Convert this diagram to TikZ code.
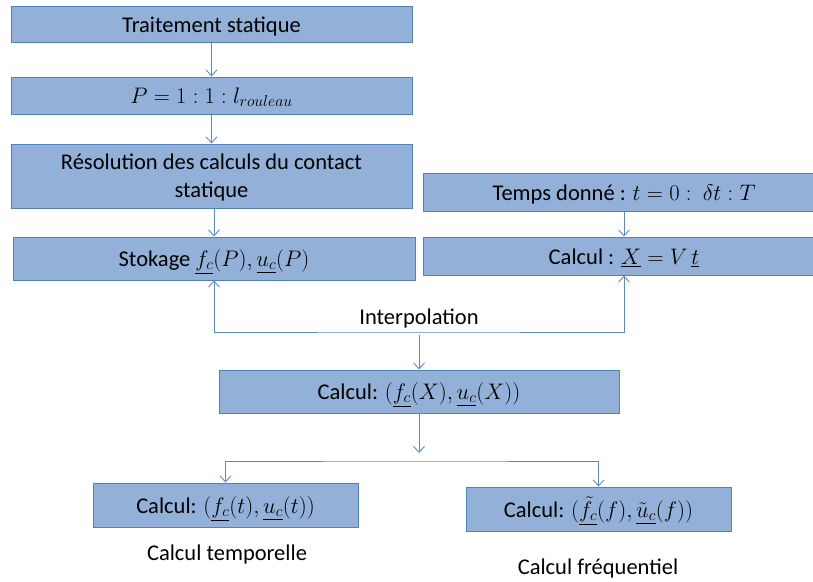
\documentclass[tikz,border=0pt]{standalone}
\usepackage{fix-cm}
\usepackage{amsmath}
\usepackage{fontspec}
\setmainfont{Carlito}
\usetikzlibrary{arrows.meta}
\definecolor{fondBleu}{HTML}{93B1D8}
\definecolor{bordBleu}{HTML}{4F81BD}
\definecolor{lienBleu}{HTML}{5A8AC6}

\begin{document}
\begin{tikzpicture}[x=1pt,y=-1pt,
    >={Straight Barb[length=6pt,width=11pt]},
    etape/.style={draw=bordBleu,fill=fondBleu,line width=1pt,inner sep=0pt,
                  minimum height=#1,align=center,text height=21pt,text depth=5pt,
                  font=\fontsize{22.5}{28}\selectfont},
    etape/.default=38pt,
    legende/.style={font=\fontsize{22.5}{28}\selectfont,inner sep=0pt},
    lien/.style={lienBleu,line width=0.9pt}]
  \clip (0,0) rectangle (813,581);
  \fill[white] (0,0) rectangle (813,581);
  % colonne statique
  \node[etape=36pt,minimum width=401pt] (trait) at (211.5,24) {Traitement statique};
  \node[etape=37pt,minimum width=401pt] (pdef) at (211.5,95.5) {$P = 1:1:l_{rouleau}$};
  \node[etape=64pt,minimum width=401pt,text height=47pt,text depth=5pt] (resol) at (211.5,176)
       {R\'esolution des calculs du contact\\ statique};
  \node[etape=43pt,minimum width=402pt] (stock) at (214,258.5)
       {Stokage $\underline{f_c}(P), \underline{u_c}(P)$};
  % colonne temporelle
  \node[etape=38pt,minimum width=402pt] (temps) at (624,192)
       {Temps donn\'e : $t = 0 :\ \delta t : T$};
  \node[etape=38pt,minimum width=402pt] (calcx) at (624,256)
       {Calcul : $\underline{X} = V\,\underline{t}$};
  % interpolation
  \coordinate (jonc) at (419,332);
  \coordinate (jonc2) at (419,335);
  \node[legende] (interp) at (419,318) {Interpolation};
  \node[etape=43pt,minimum width=400pt] (calcX) at (419,391.5)
       {Calcul: $(\underline{f_c}(X), \underline{u_c}(X))$};
  \coordinate (sortie) at (419,453);
  \coordinate (branche) at (419,461);
  % resultats
  \node[etape=44pt,minimum width=265pt] (calct) at (225.5,505)
       {Calcul: $(\underline{f_c}(t), \underline{u_c}(t))$};
  \node[etape=44pt,minimum width=265pt] (calcf) at (598.5,509)
       {Calcul: $(\underline{\tilde{f}_c}(f), \underline{\tilde{u}_c}(f))$};
  \node[legende] (lbt) at (227,554) {Calcul temporelle};
  \node[legende] (lbf) at (598,568) {Calcul fr\'equentiel};
  % liens
  \draw[lien,->] (trait) -- (pdef);
  \draw[lien,->] (pdef) -- (resol);
  \draw[lien,->] (resol.south -| stock.north) -- (stock.north);
  \draw[lien,->] (temps) -- (calcx);
  \draw[lien,<->] (stock.south) |- (jonc) -| (calcx.south);
  \draw[lien,->] (jonc2) -- (calcX.north);
  \draw[lien,->] (calcX.south) -- (sortie);
  \draw[lien,<->] (calct.north) |- (branche) -| (calcf.north);
\end{tikzpicture}
\end{document}
